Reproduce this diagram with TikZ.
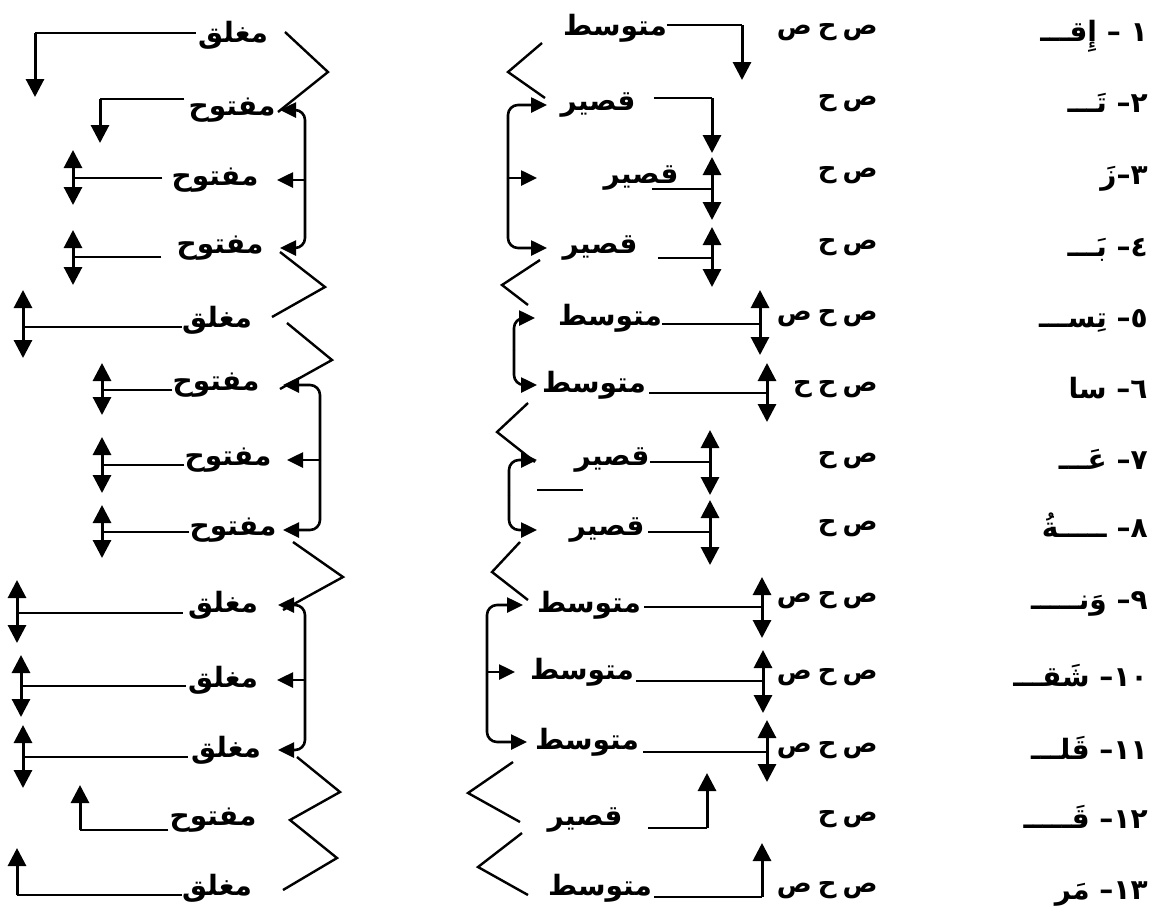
\documentclass[tikz,border=0pt]{standalone}
\usepackage{fontspec}
\newfontfamily\arabicfont[Script=Arabic]{DejaVu Sans}
\TeXXeTstate=1
\usetikzlibrary{arrows.meta}
\newcommand\artext[1]{\beginR #1\endR}
\newcommand\sep{\hspace{3pt}}
\tikzset{
  word/.style={inner sep=0pt,font=\arabicfont\bfseries\fontsize{14}{17}\selectfont},
  patt/.style={word,font=\arabicfont\bfseries\fontsize{13}{16}\selectfont},
  ln/.style={line width=1pt},
  one/.style={line width=1.5pt,-{Triangle[length=9pt,width=9pt]}},
  two/.style={line width=1.5pt,{Triangle[length=9pt,width=9pt]}-{Triangle[length=9pt,width=9pt]}},
  brk/.style={line width=1.3pt,rounded corners=5pt,-{Triangle[length=8pt,width=7.5pt]}},
}

\begin{document}
\begin{tikzpicture}[x=0.5pt,y=-0.5pt]
\useasboundingbox (0,0) rectangle (1161,917);

% syllables and patterns
\foreach \i/\y/\t/\p in {1/32/{١\kern0pt\ – إِقـــ}/{ص\sep ح\sep ص}, 2/103/{٢\kern0pt– تَـــ}/{ص\sep ح}, 3/175/{٣\kern0pt–\kern0pt زَ}/{ص\sep ح},
  4/247/{٤\kern0pt– بَـــ}/{ص\sep ح}, 5/318/{٥\kern0pt– تِســـ}/{ص\sep ح\sep ص}, 6/389/{٦\kern0pt– سا}/{ص\sep ح\sep ح},
  7/460/{٧\kern0pt– عَـــ}/{ص\sep ح}, 8/528/{٨\kern0pt– ـــــةُ}/{ص\sep ح}, 9/600/{٩\kern0pt– وَنـــــ}/{ص\sep ح\sep ص},
  10/677/{١٠\kern0pt– شَقـــ}/{ص\sep ح\sep ص}, 11/750/{١١\kern0pt– قَلـــ}/{ص\sep ح\sep ص}, 12/819/{١٢\kern0pt– قَـــــ}/{ص\sep ح}, 13/890/{١٣\kern0pt– مَر}/{ص\sep ح\sep ص}}
{
  \node[word,anchor=base east] (num\i) at (1148,\y+9) {\artext{\t}};
  \node[patt,anchor=east] (pat\i) at (878,\y) {\artext{\p}};
}

% length of syllable
\foreach \i/\x/\y/\t in {1/615/28/متوسط, 2/598/105/قصير, 3/641/178/قصير, 4/600/248/قصير,
  5/610/318/متوسط, 6/594/385/متوسط, 7/612/460/قصير, 8/607/530/قصير, 9/589/605/متوسط,
  10/582/672/متوسط, 11/587/742/متوسط, 12/585/820/قصير, 13/600/888/متوسط}
  \node[word] (mid\i) at (\x,\y) {\artext{\t}};

% open or closed
\foreach \i/\x/\y/\t in {1/233/35/مغلق, 2/232/110/مفتوح, 3/215/180/مفتوح, 4/220/248/مفتوح,
  5/217/320/مغلق, 6/216/385/مفتوح, 7/228/460/مفتوح, 8/233/530/مفتوح, 9/223/605/مغلق,
  10/223/680/مغلق, 11/226/750/مغلق, 12/213/820/مفتوح, 13/217/888/مغلق}
  \node[word] (lft\i) at (\x,\y) {\artext{\t}};

% arrows right of the middle words
\foreach \i/\g/\xv/\yl/\ya/\yb/\s in {1/0/742/25/25/80/one, 2/18/712/98/98/153/one,
  3/-27/712/189/157/220/two, 4/20/712/258/227/287/two, 5/0/760/324/290/355/two,
  6/3/767/393/363/422/two, 7/0/710/462/430/495/two, 8/3/710/532/500/565/two,
  9/3/762/607/577/638/two, 10/2/763/681/650/713/two, 11/4/767/752/720/782/two,
  12/25/707/828/828/773/one, 13/2/762/897/897/843/one}
{
  \draw[ln] (mid\i.east |- 0,\yl) ++(\g,0) -- (\xv,\yl);
  \draw[\s] (\xv,\ya) -- (\xv,\yb);
}

% arrows left of the left words
\foreach \i/\g/\xv/\yl/\ya/\yb/\s in {1/2/35/33/33/97/one, 2/4/100/99/99/143/one,
  3/9/73/178/150/205/two, 4/15/73/257/230/285/two, 5/0/23/327/290/358/two,
  6/0/102/390/363/415/two, 7/0/102/465/437/493/two, 8/0/102/532/505/558/two,
  9/5/17/613/580/643/two, 10/2/21/686/655/717/two, 11/3/23/757/725/788/two,
  12/1/80/830/830/785/one, 13/0/17/895/895/848/one}
{
  \draw[ln] (lft\i.west |- 0,\yl) ++(-\g,0) -- (\xv,\yl);
  \draw[\s] (\xv,\ya) -- (\xv,\yb);
}

% brackets
\foreach \sx/\sy/\r/\tx in {508/178/2/547, 508/178/4/547, 514/350/5/535, 514/350/6/537,
  509/495/7/537, 509/495/8/537, 487/674/9/523, 487/674/11/527}
  \draw[brk] (\sx,\sy) |- (\tx,0 |- mid\r);
\foreach \sx/\r/\tx in {508/3/537, 487/10/515}
  \draw[brk] (\sx,0 |- mid\r) -- (\tx,0 |- mid\r);
\foreach \sx/\sy/\r/\tx in {305/180/2/280, 305/180/4/280, 320/460/6/283, 320/460/8/283,
  305/680/9/278, 305/680/11/278}
  \draw[brk] (\sx,\sy) |- (\tx,0 |- lft\r);
\foreach \sx/\r/\tx in {305/3/277, 320/7/287, 305/10/277}
  \draw[brk] (\sx,0 |- lft\r) -- (\tx,0 |- lft\r);

% zigzags
\foreach \a/\b/\c in {{542,43}/{508,72}/{545,98}, {540,260}/{502,285}/{528,305},
  {528,403}/{497,432}/{535,462}, {520,542}/{492,572}/{528,600},
  {513,762}/{468,793}/{520,822}, {522,833}/{478,867}/{528,895},
  {285,32}/{328,72}/{278,112}, {280,252}/{325,287}/{272,317},
  {287,323}/{332,360}/{280,389}, {293,542}/{343,577}/{283,610}}
  \draw[ln,line width=1.2pt] (\a) -- (\b) -- (\c);
\draw[ln,line width=1.2pt] (297,757) -- (340,792) -- (290,820) -- (337,858) -- (283,890);
\draw[ln] (537,490) -- (583,490);
\end{tikzpicture}
\end{document}
